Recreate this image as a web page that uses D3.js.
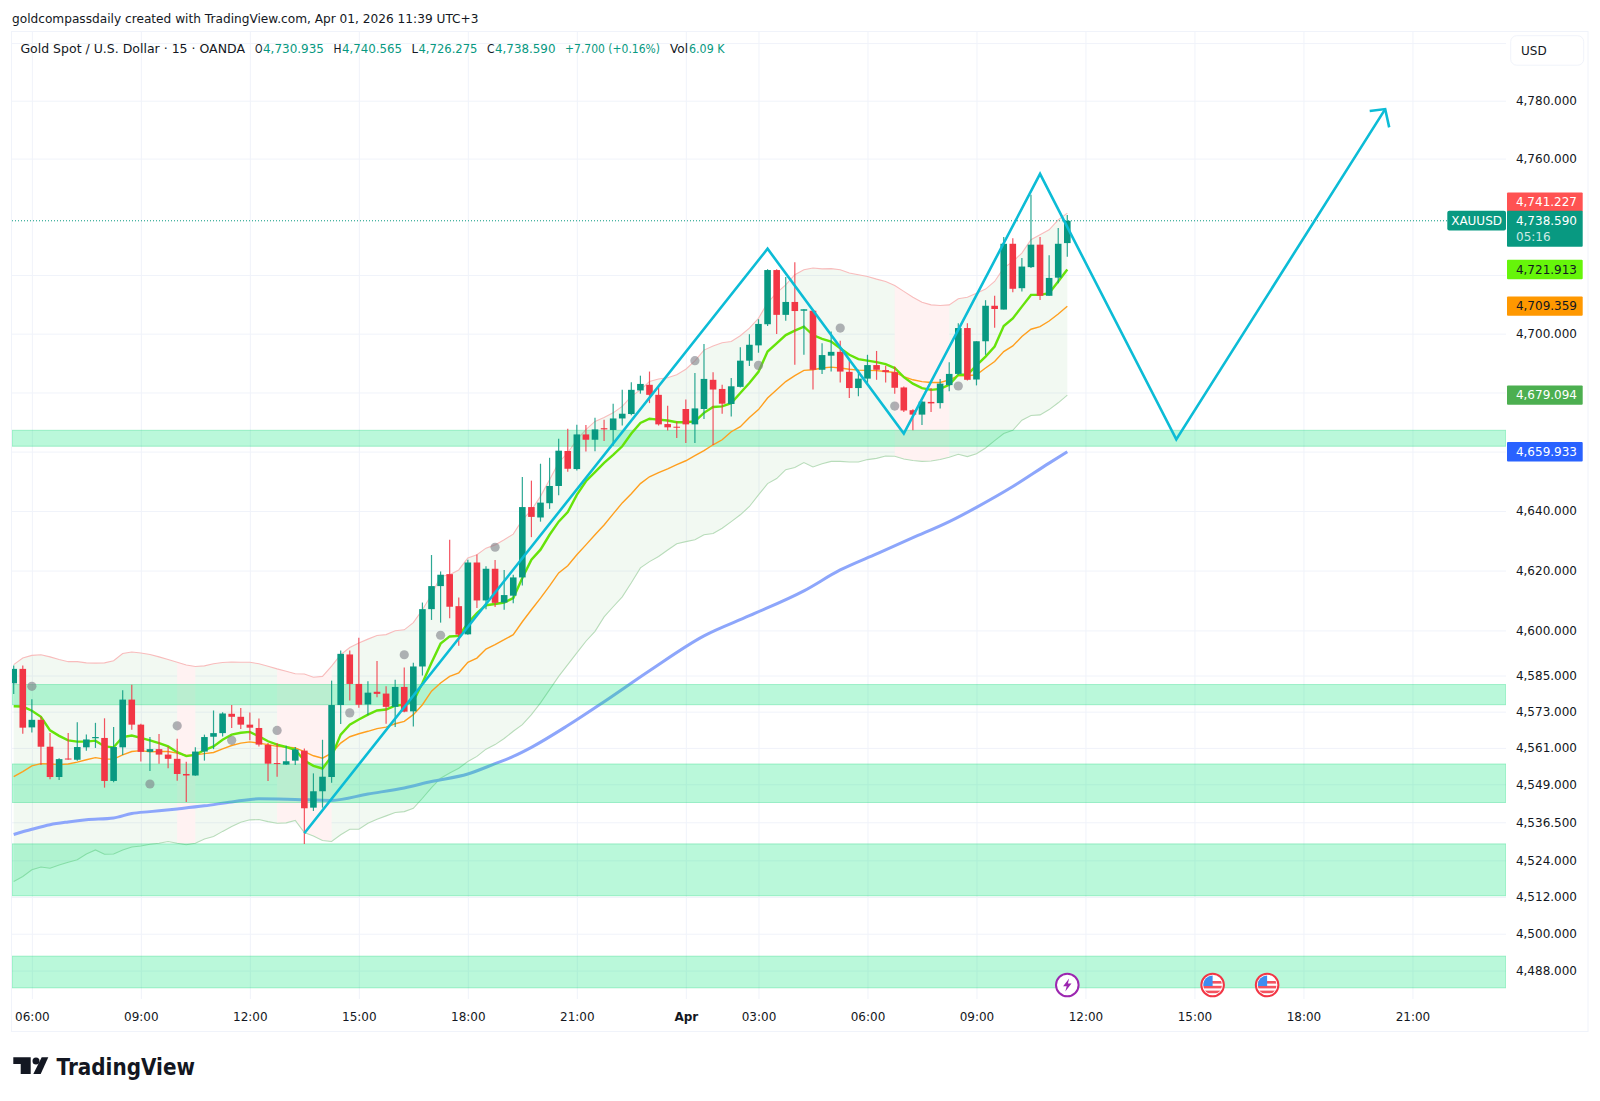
<!DOCTYPE html>
<html><head><meta charset="utf-8">
<script src="https://cdn.jsdelivr.net/npm/d3@7/dist/d3.min.js"></script>
<style>html,body{margin:0;padding:0;background:#fff}svg{display:block}text{font-family:"DejaVu Sans",sans-serif}</style>
</head><body><svg id="c" width="1600" height="1101"></svg>
<script>
const opens=[4582.4,4587.2,4567.8,4570.3,4561.4,4551.4,4557.5,4557.1,4561.2,4564.2,4564.3,4550.1,4561.2,4577,4568.7,4559.7,4560.6,4558.8,4557.4,4552.4,4551.9,4559.8,4564.7,4565.9,4572.3,4571.3,4568.7,4567.6,4562,4556,4555.5,4556.8,4560.1,4541.3,4546.7,4551.4,4575.2,4592,4582.2,4575.4,4579.6,4579,4574.6,4581.2,4573.1,4588,4607.1,4614.8,4618.8,4608.1,4598.7,4622.7,4610,4620.6,4609.3,4611.6,4617.7,4641.3,4637.8,4642.6,4648.4,4660.2,4654.1,4665.8,4664,4667.9,4667.3,4671.2,4672.7,4680.7,4682.6,4679.2,4669.3,4668.4,4674.4,4669.2,4674.4,4684.3,4681.2,4676.1,4681.9,4690.8,4696,4703.2,4721.7,4706.4,4710.8,4707.8,4707.8,4687.7,4692.5,4693.8,4687,4681.5,4684.7,4689.3,4687.6,4686.9,4681.7,4674,4672.5,4676.8,4676.4,4682.5,4686.3,4701.9,4684.4,4697.4,4709.5,4708.2,4730.7,4715.5,4722.7,4730.4,4712.9,4719.1,4730.935];
const highs=[4588.3,4588.3,4577.1,4571.3,4565.9,4557.6,4565.9,4569.5,4565.4,4569.3,4570.8,4567.9,4580.1,4581.9,4569,4564.6,4565.6,4561.5,4564,4556.4,4561.2,4565.4,4573.4,4572.8,4575.2,4574.2,4572.7,4570.7,4562.6,4562.6,4561.7,4561.3,4560.8,4552.6,4563.7,4583.3,4593.3,4593.3,4597.6,4583.1,4589.8,4581.4,4583.6,4587.7,4589.2,4609.3,4625.2,4619.7,4630.3,4611,4623.6,4625.4,4621.4,4623.5,4620.2,4618.6,4651.4,4650.2,4655.9,4657.9,4664.3,4667.7,4669.1,4669,4671.4,4670.8,4676.2,4680.9,4683.5,4685.7,4687.1,4682,4675.5,4670.2,4677.6,4686.6,4696.5,4686.9,4682.6,4684.9,4695.4,4699.8,4704.9,4722,4722,4719.3,4724.4,4708.3,4708.1,4696.7,4700.7,4697.6,4691,4687.7,4692.8,4694.1,4689.1,4688.8,4682,4674.3,4677.1,4681.5,4684.6,4690.3,4703.5,4703.5,4697.4,4711.4,4712.9,4733,4732.6,4725.8,4747.5,4733,4726.8,4736.1,4740.565];
const lows=[4578.9,4565.7,4566.1,4555.4,4550.7,4550.4,4557.1,4556.8,4560.1,4561,4547.9,4549.7,4558.7,4567,4556.5,4553.4,4555.8,4554.3,4550.2,4543.2,4551.8,4556.8,4560.6,4564.8,4567.6,4567.3,4563.5,4561.5,4550.1,4551.5,4555.4,4555.4,4529.4,4540.2,4541.3,4549.5,4568.9,4576.7,4574.3,4571.8,4577.8,4569,4567.9,4572.8,4568.1,4585,4603.5,4602.6,4604.1,4594.9,4598.6,4607.5,4607.1,4607.8,4606.9,4609.1,4615,4631.2,4636.4,4640.7,4645.3,4653.2,4653.6,4660,4660.1,4663.6,4662,4668.8,4672.3,4679.6,4676.4,4668.8,4667.1,4664.6,4662.9,4662.9,4671,4662.2,4672.8,4671.9,4681.7,4689,4693.5,4702.6,4699.9,4704.4,4689.4,4692.8,4681,4686.3,4687.1,4683.4,4678.1,4678.7,4683,4684.3,4683.4,4679.6,4673.4,4667.2,4669,4673.4,4674.6,4680.4,4686,4684.1,4682.4,4692.8,4702,4708.2,4714.1,4714.4,4722.4,4711.5,4712.9,4717.2,4726.275];
const closes=[4587.2,4567.7,4570.3,4561.4,4551.4,4557.3,4557.2,4561.3,4563.8,4564.6,4550.1,4561.3,4577,4568.7,4559.7,4560.6,4558.8,4557.4,4552.4,4551.9,4559.8,4564.6,4565.9,4572.4,4571.3,4568.7,4567.7,4562.1,4555.8,4555.7,4556.6,4560.5,4541.1,4546.7,4551.5,4575.2,4592.2,4582.2,4575.3,4579.3,4578.9,4574.6,4581.2,4573,4588,4607.1,4614.8,4618.6,4607.9,4598.6,4622.7,4610,4620.6,4609.2,4611.8,4617.7,4641.3,4638,4642.8,4648.4,4660.3,4654.2,4665.8,4664,4667.5,4667.5,4671.2,4672.8,4680.9,4682.9,4679.2,4669.2,4668.2,4668.2,4669.2,4674.6,4684.6,4681,4676.2,4682.1,4690.8,4696.2,4703.3,4721.7,4706.4,4710.8,4707.7,4708.3,4687.7,4692.7,4693.8,4687.1,4681.5,4684.7,4689.3,4687.7,4686.9,4681.6,4673.9,4672.5,4676.9,4676.3,4683,4686.3,4701.9,4684.3,4697.4,4709.5,4708.4,4730.7,4715.3,4722.9,4730.4,4712.9,4719,4730.7,4738.59];
const emaFast=[4574.8,4574.7,4573.3,4571.3,4566.8,4565,4563.5,4563.1,4563.1,4563.4,4561.5,4561.2,4564.6,4565.1,4564.3,4563.5,4562.6,4561.5,4559.6,4558.3,4558.7,4560.3,4561.5,4563.7,4565.4,4566,4566.3,4564.8,4563.2,4562.1,4561.3,4560.4,4556.8,4555.1,4554.2,4558.2,4565.4,4568.7,4570.4,4572,4573.4,4573.7,4575,4575.3,4576.4,4582.5,4589.2,4595.6,4598,4598.2,4602.4,4605.8,4608.4,4608.8,4609.3,4610.8,4617.5,4623.6,4627,4632,4636.4,4639.6,4645.4,4650,4653.1,4656.2,4658.9,4661.8,4666.1,4669.7,4671.1,4670.8,4670.5,4669.9,4669.9,4670.2,4673.1,4675.1,4675.3,4676.4,4679.8,4683.2,4687,4693.9,4696.7,4699.5,4701,4702.4,4699.5,4698.2,4697.3,4695,4692.8,4691.3,4690.8,4690.3,4689.6,4688.3,4685.2,4683,4681.5,4680.9,4681.2,4682.6,4686,4686,4689.2,4692.2,4695.6,4702.6,4705.2,4709.2,4713.2,4713.2,4713.8,4717.8,4721.913];
const emaSlow=[4551.5,4553.2,4555.1,4555.8,4555.7,4555.5,4555.7,4556.3,4557.1,4557.8,4557.3,4557.3,4558.7,4559.8,4560.1,4559.7,4559.8,4559.8,4559.3,4558.5,4558.7,4559.1,4559.5,4560.7,4561.8,4562.6,4563,4562.6,4562.1,4561.5,4561.3,4561,4559.8,4558.4,4557.6,4559.3,4562.6,4564.7,4565.7,4566.5,4567.4,4567.9,4569,4569.8,4572,4575.3,4579.8,4582.5,4584.7,4585.9,4589.4,4590.8,4593.8,4595.3,4596.9,4598.6,4602.9,4606.9,4610.8,4614.9,4619.2,4621.6,4625.3,4628.6,4632,4635.3,4639,4642.7,4645.8,4649.2,4651.5,4652.9,4654.2,4655.6,4656.9,4658.6,4660.3,4662.3,4664,4666.7,4668.4,4671.5,4674.2,4678.1,4680.9,4683.7,4685.7,4687.5,4687.7,4688.3,4688.6,4688.3,4687.9,4687.6,4687.5,4687.4,4687.1,4686.8,4685.4,4684.3,4683.7,4683.4,4683.4,4684.3,4685.7,4685.7,4686,4688.3,4690.5,4693.9,4695.8,4699,4701.5,4702.4,4704.3,4706.7,4709.359];
const bandUpper=[4588.6,4590.8,4591.7,4591.9,4591.2,4590.3,4589.6,4589.6,4589.2,4589.1,4589.2,4589.9,4592.3,4592.8,4592.5,4592,4591.2,4590.3,4589.4,4588.5,4588,4588.2,4588.9,4589.3,4589.5,4589.4,4589.4,4588.9,4588.1,4587.2,4586.4,4585.6,4585.5,4584.4,4584.7,4588.1,4591.9,4594.3,4595.8,4597.1,4598.3,4598.6,4599.9,4600.2,4602.6,4606.9,4611.9,4618,4618.6,4620.2,4624.2,4625.3,4627.5,4628.6,4630.3,4632.2,4637,4640.3,4644.9,4650.5,4656.3,4659.6,4664,4667.4,4670.2,4671.5,4673.1,4675.3,4678.7,4680.9,4683.7,4684.6,4685,4686,4687.9,4690.7,4694.4,4695.8,4696.9,4697.3,4699.3,4701.9,4705.2,4710.5,4713.9,4716.6,4720.1,4721.8,4722.4,4722.1,4722.2,4721.8,4720.7,4720.1,4719.5,4718.6,4717.8,4716.4,4714.4,4712.4,4710.7,4709.8,4709.6,4709.8,4711.9,4712.4,4713.8,4715.2,4717.8,4722.4,4724.6,4727.5,4732.1,4733.8,4735.5,4738.9,4741.227];
const bandLower=[4517.1,4518.7,4520.9,4521.8,4521.4,4522.5,4523.4,4524.2,4526.1,4527.4,4526,4526.1,4527.4,4528.4,4528.7,4529.3,4529.6,4530.2,4529.6,4529.1,4529.6,4531,4531.8,4533.5,4535.1,4536.5,4537.3,4537.4,4536.7,4536.2,4536.3,4537.1,4533.1,4532,4530.5,4530.2,4532.4,4534.2,4534.2,4536.2,4537.5,4538.6,4539.7,4540,4541.1,4544.4,4547.9,4551,4552.7,4554.3,4556.5,4558.2,4560.6,4562.1,4564.1,4566.5,4568.7,4572,4575.9,4580.3,4584.7,4588.6,4592.5,4596.4,4599.7,4604.5,4607.9,4611.2,4615.9,4620.9,4623,4624.7,4626.9,4629,4629.7,4630.3,4632,4632.4,4634.2,4636.4,4638.7,4641.5,4645.4,4649.2,4650.9,4653.9,4654.6,4656.3,4654.8,4655.9,4656.7,4656.7,4656.5,4656.5,4657.3,4657.7,4658.5,4658.4,4657.5,4657,4656.7,4656.8,4657.3,4658.1,4659.1,4658.3,4659.3,4661.2,4663.7,4666.1,4667.2,4670.6,4672.2,4672.4,4674.2,4676.5,4679.094];
const slowBars=[0,2,4,6,8,11,13,15,18,21,24,27,31,35,39,43,46,50,53,55,57,61,65,70,76,81,87,91,95,99,103,106,110,114,116];
const slowVals=[4532.5,4534.2,4535.7,4536.6,4537.3,4537.9,4539.4,4540,4540.9,4541.9,4543.2,4544.2,4544,4543.7,4545.8,4547.8,4549.9,4552.4,4555.8,4558.2,4561.2,4568.4,4576.3,4586.6,4598.2,4604.9,4613.2,4620.2,4625.6,4631,4636.4,4641.2,4648.2,4656.1,4659.933];
const zoneTops=[4667.2,4582,4555.7,4529.4,4492.7];
const zoneBottoms=[4661.8,4575.3,4543,4512.4,4482.4];
const pinkFrom=[18,29,97];
const pinkTo=[20,35,103];
const dotBars=[2,18,15,24,29,37,43,47,53,75,82,91,97,104];
const dotVals=[4581.4,4568.3,4549.1,4563.5,4566.8,4572.6,4591.9,4598.4,4627.8,4690.8,4689.2,4701.9,4675.4,4682.2];
const patternBars=[32,83,98,113,128,151];
const patternVals=[4532.9,4729,4666.1,4754.7,4664.1,4777.1];
const timeBars=[2,14,26,38,50,62,74,82,94,106,118,130,142,154];
const timeLabels=["06:00","09:00","12:00","15:00","18:00","21:00","Apr","03:00","06:00","09:00","12:00","15:00","18:00","21:00"];
const priceTicks=[4780,4760,4700,4640,4620,4600,4585,4573,4561,4549,4536.5,4524,4512,4500,4488];
const gridOnly=[4800,4720,4680,4660];
const lastPrice=4738.59;
const tagVals=[4741.227,4721.913,4709.359,4679.094,4659.933];
const tagFills=["#ff5252","#66f50a","#ff9800","#4caf50","#2962ff"];
const tagInks=["#fff","#131722","#131722","#fff","#fff"];
const eventBars=[116,132,138];
const eventKinds=["bolt","us","us"];
const headerText="goldcompassdaily created with TradingView.com, Apr 01, 2026 11:39 UTC+3";
const titleText="Gold Spot / U.S. Dollar · 15 · OANDA";
const legendKeys=["O","H","L","C","Vol"];
const legendVals=["4,730.935","4,740.565","4,726.275","4,738.590","6.09 K"];
const changeText="+7.700 (+0.16%)";

const GREEN="#089981",RED="#f23645",GRID="#f0f3fa";
const L=12,R=1506,T=31.5,B=999;
const svg=d3.select("#c");
const x=d3.scaleLinear().domain([0,116]).range([13.7,1067.3]);
const y=d3.scaleLog().domain([4780,4488]).range([100.7,970.6]);
const fmt=d3.format(",.3f");
const bars=opens.map((o,i)=>({i,o,h:highs[i],l:lows[i],c:closes[i]}));

svg.append("defs").append("clipPath").attr("id","plot").append("rect").attr("x",L).attr("y",T).attr("width",R-L).attr("height",B-T);
svg.append("rect").attr("x",11.5).attr("y",T).attr("width",1576.5).attr("height",1000).attr("fill","#fff").attr("stroke",GRID);
const gridY=svg.append("g").attr("transform",`translate(${L},0)`).call(d3.axisRight(y).tickValues(priceTicks.concat(gridOnly)).tickSize(R-L).tickFormat(""));
gridY.select(".domain").remove();gridY.selectAll("line").attr("stroke",GRID);
const gridX=svg.append("g").attr("transform",`translate(0,${B})`).call(d3.axisTop(x).tickValues(timeBars).tickSize(B-T).tickFormat(""));
gridX.select(".domain").remove();gridX.selectAll("line").attr("stroke",GRID);

const plot=svg.append("g").attr("clip-path","url(#plot)");
const area=d3.area().x(d=>x(d)).y0(d=>y(bandUpper[d])).y1(d=>y(bandLower[d]));
const idx=d3.range(bars.length);
plot.append("path").attr("d",area(idx)).attr("fill","rgba(76,175,80,0.075)");
pinkFrom.forEach((a,k)=>{
  const seg=d3.range(a,pinkTo[k]+1);
  plot.append("path").attr("d",area(seg)).attr("fill","#fff");
  plot.append("path").attr("d",area(seg)).attr("fill","rgba(255,82,82,0.075)");
});
const line=(arr)=>d3.line().x(d=>x(d)).y(d=>y(arr[d]));
plot.append("path").attr("d",line(bandUpper)(idx)).attr("fill","none").attr("stroke","#f8bcbc").attr("stroke-width",1.1);
plot.append("path").attr("d",line(bandLower)(idx)).attr("fill","none").attr("stroke","#b8dcba").attr("stroke-width",1.1);
const slowPts=slowBars.map((b,i)=>[b,slowVals[i]]);
plot.append("path").attr("d",d3.line().curve(d3.curveMonotoneX).x(d=>x(d[0])).y(d=>y(d[1]))(slowPts)).attr("fill","none").attr("stroke","#8da6fb").attr("stroke-width",3);
plot.selectAll("rect.zone").data(zoneTops).join("rect").attr("class","zone")
 .attr("x",L).attr("width",R-L).attr("y",d=>y(d)).attr("height",(d,i)=>y(zoneBottoms[i])-y(d))
 .attr("fill","rgba(0,230,118,0.27)").attr("stroke","rgba(0,210,110,0.3)");
plot.append("path").attr("d",line(emaSlow)(idx)).attr("fill","none").attr("stroke","#ff9f1e").attr("stroke-width",1.4);
plot.append("path").attr("d",line(emaFast)(idx)).attr("fill","none").attr("stroke","#66e30a").attr("stroke-width",2.4);
const cg=plot.selectAll("g.bar").data(bars).join("g").attr("class","bar");
cg.append("line").attr("x1",d=>x(d.i)).attr("x2",d=>x(d.i)).attr("y1",d=>y(d.h)).attr("y2",d=>y(d.l))
 .attr("stroke",d=>d.c>=d.o?GREEN:RED).attr("stroke-width",1.2).attr("stroke-opacity",0.85);
cg.append("rect").attr("x",d=>x(d.i)-3.3).attr("width",6.6)
 .attr("y",d=>y(Math.max(d.o,d.c))).attr("height",d=>Math.max(1,Math.abs(y(d.o)-y(d.c))))
 .attr("fill",d=>d.c>=d.o?GREEN:RED);
plot.selectAll("circle.dot").data(dotBars).join("circle").attr("class","dot")
 .attr("cx",d=>x(d)).attr("cy",(d,i)=>y(dotVals[i])).attr("r",4.6).attr("fill","rgba(125,127,135,0.6)");
plot.append("line").attr("x1",L).attr("x2",1447).attr("y1",y(lastPrice)).attr("y2",y(lastPrice))
 .attr("stroke",GREEN).attr("stroke-width",1).attr("stroke-dasharray","1 2");
const patPts=patternBars.map((b,i)=>[b,patternVals[i]]);
plot.append("path").attr("d",d3.line().x(d=>x(d[0])).y(d=>y(d[1]))(patPts)).attr("fill","none").attr("stroke","#0cbcd6").attr("stroke-width",2.6);
const tx=x(patternBars[5]),ty=y(patternVals[5]);
plot.append("path").attr("d",`M${tx-15.5},${ty+2}L${tx},${ty}L${tx+4},${ty+18.3}`).attr("fill","none").attr("stroke","#0cbcd6").attr("stroke-width",2.6);

eventBars.forEach((b,k)=>{
  const g=svg.append("g").attr("transform",`translate(${x(b)},985)`);
  if(eventKinds[k]==="bolt"){
    g.append("circle").attr("r",11.3).attr("fill","#fff").attr("stroke","#9c27b0").attr("stroke-width",2);
    g.append("path").attr("d","M1.8,-6.5L-4.2,1.2L-0.6,1.2L-2,6.5L4.2,-1.4L0.6,-1.4Z").attr("fill","#9c27b0");
  }else{
    g.append("circle").attr("r",11.3).attr("fill","#fff").attr("stroke","#f23645").attr("stroke-width",2);
    const cid="flag"+k;
    g.append("clipPath").attr("id",cid).append("circle").attr("r",9.4);
    const f=g.append("g").attr("clip-path",`url(#${cid})`);
    [-4,0.8,5.6].forEach(s=>f.append("rect").attr("x",-10).attr("y",s).attr("width",20).attr("height",2.6).attr("fill","#f4535f"));
    f.append("rect").attr("x",-10).attr("y",-10).attr("width",10).attr("height",11).attr("fill","#3f8cf0");
  }
});

const ay=svg.append("g").attr("transform","translate(1577,0)").call(d3.axisLeft(y).tickValues(priceTicks).tickSize(0).tickFormat(fmt));
ay.select(".domain").remove();
ay.selectAll("text").attr("x",0).attr("font-size",12).attr("fill","#131722").attr("font-family","DejaVu Sans");
const ax=svg.append("g").attr("transform","translate(0,1010)").call(d3.axisBottom(x).tickValues(timeBars).tickSize(0).tickFormat((d,i)=>timeLabels[i]));
ax.select(".domain").remove();
ax.selectAll("text").attr("y",2).attr("dy","0.71em").attr("font-size",12).attr("fill","#131722").attr("font-family","DejaVu Sans")
 .attr("font-weight",(d,i)=>timeLabels[i]==="Apr"?"bold":"normal");

svg.append("rect").attr("x",1510.7).attr("y",35.7).attr("width",73).attr("height",29.5).attr("rx",6).attr("fill","#fff").attr("stroke",GRID);
svg.append("text").attr("x",1521).attr("y",54.5).attr("font-size",12).attr("fill","#131722").text("USD");

// the top tag sits above the last-price tag, as the price axis stacks colliding tags
const tagLift=[-11,0,0,0,0];
function tag(v,fill,ink,lift){
  const c=y(v)+lift;
  svg.append("rect").attr("x",1507).attr("y",c-9.7).attr("width",75.7).attr("height",19.4).attr("rx",1).attr("fill",fill);
  svg.append("text").attr("x",1577).attr("y",c+4.3).attr("text-anchor","end").attr("font-size",12).attr("fill",ink).text(fmt(v));
}
tagVals.forEach((v,i)=>tag(v,tagFills[i],tagInks[i],tagLift[i]));
const lc=y(lastPrice);
svg.append("rect").attr("x",1507).attr("y",lc-10).attr("width",75.7).attr("height",36).attr("rx",1).attr("fill",GREEN);
svg.append("text").attr("x",1577).attr("y",lc+4).attr("text-anchor","end").attr("font-size",12).attr("fill","#fff").text(fmt(lastPrice));
svg.append("text").attr("x",1516).attr("y",lc+20).attr("font-size",12).attr("fill","#cfe9e4").text("05:16");
svg.append("rect").attr("x",1447.3).attr("y",lc-10).attr("width",58.7).attr("height",19.6).attr("rx",2).attr("fill",GREEN);
svg.append("text").attr("x",1476.6).attr("y",lc+4.2).attr("text-anchor","middle").attr("font-size",12).attr("fill","#fff").text("XAUUSD");

const CN="DejaVu Sans Condensed";
function tx2(x0,x1,yy,s,fill,size){
  svg.append("text").attr("x",x0).attr("y",yy).attr("font-size",size).attr("fill",fill).attr("font-family",CN)
   .attr("textLength",x1-x0).attr("lengthAdjust","spacingAndGlyphs").text(s);
}
tx2(12,478.5,22.5,headerText,"#131722",13);
tx2(20.4,245,52.5,titleText,"#131722",12.5);
const keyX=[255,333.5,411.5,487,670],keyEnd=[262.5,341.5,418,494.5,688];
const valX=[263,342,418.5,495,689],valEnd=[324,402,477.5,555.5,724.5];
legendKeys.forEach((k,i)=>{
  tx2(keyX[i],keyEnd[i],52.5,k,"#131722",12.5);
  tx2(valX[i],valEnd[i],52.5,legendVals[i],GREEN,12.5);
});
tx2(565,660,52.5,changeText,GREEN,12);

const lg=svg.append("g").attr("fill","#131722");
lg.append("path").attr("d","M13.3,1057.3H30.7V1074H20.7V1064H13.3Z");
lg.append("circle").attr("cx",36).attr("cy",1061).attr("r",3.5);
lg.append("path").attr("d","M41.7,1057.3H48.3L40.7,1074H33.3Z");
lg.append("text").attr("x",56.5).attr("y",1074.5).attr("font-family","Inter").attr("font-weight",600).attr("font-size",23).attr("textLength",138.5).attr("lengthAdjust","spacingAndGlyphs").text("TradingView");
</script></body></html>
